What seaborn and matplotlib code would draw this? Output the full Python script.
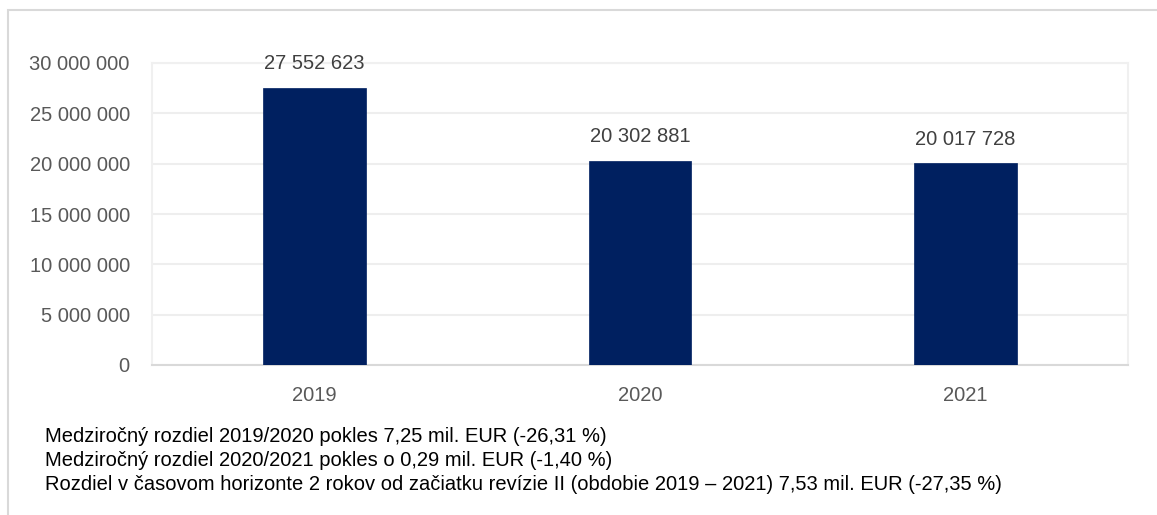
import matplotlib
matplotlib.use("Agg")
import matplotlib.pyplot as plt
import seaborn as sns
import pandas as pd
from matplotlib.patches import Rectangle

years = ["2019", "2020", "2021"]
values = [27552623, 20302881, 20017728]
yticks = [0, 5000000, 10000000, 15000000, 20000000, 25000000, 30000000]
notes = [
    "Medziročný rozdiel 2019/2020 pokles 7,25 mil. EUR (-26,31 %)",
    "Medziročný rozdiel 2020/2021 pokles o 0,29 mil. EUR (-1,40 %)",
    "Rozdiel v časovom horizonte 2 rokov od začiatku revízie II (obdobie 2019 – 2021) 7,53 mil. EUR (-27,35 %)",
]

def fmt(v):
    return f"{int(round(v)):,}".replace(",", " ")

sns.set_theme(style="white")
plt.rcParams['font.family'] = ['Liberation Sans', 'DejaVu Sans']

W, H = 1157, 515
fig = plt.figure(figsize=(W / 100, H / 100), dpi=100)
fig.patch.set_facecolor("white")

# outer frame
fig.patches.append(Rectangle((8 / W, -0.1), 1.2, (H - 10) / H + 0.1, transform=fig.transFigure,
                             fill=False, edgecolor="#d9d9d9", linewidth=1.5, zorder=0))

left, right, top, bottom = 152, 1128, 63, 365
ax = fig.add_axes([left / W, (H - bottom) / H, (right - left) / W, (bottom - top) / H])

df = pd.DataFrame({"year": years, "value": values})
sns.barplot(data=df, x="year", y="value", color="#002060", width=0.315, ax=ax,
            saturation=1, edgecolor="#002060", linewidth=0.5, zorder=3)

ax.set_ylim(0, 30000000)
ax.set_yticks(yticks)
ax.set_yticklabels([fmt(v) for v in yticks])
ax.set_xlabel("")
ax.set_ylabel("")
ax.grid(axis="y", color="#eeeeee", linewidth=1.5, zorder=0)
ax.set_axisbelow(True)
for s in ["left", "top", "right"]:
    ax.spines[s].set_color("#f0f0f0")
    ax.spines[s].set_linewidth(1.5)
ax.spines["bottom"].set_color("#d9d9d9")
ax.spines["bottom"].set_linewidth(1.5)
ax.tick_params(axis="y", length=0, pad=16, labelsize=14.5, labelcolor="#595959")
ax.tick_params(axis="x", length=0, pad=15, labelsize=14.5, labelcolor="#595959")

for i, v in enumerate(values):
    ax.annotate(fmt(v), (i, v), xytext=(0, 10.5), textcoords="offset points",
                ha="center", va="bottom", fontsize=14.5, color="#404040")

for k, t in enumerate(notes):
    fig.text(45 / W, 1 - (437 + 24 * k) / H, t, ha="left", va="center",
             fontsize=14.5, color="#000000")

fig.savefig("out.png", dpi=100, facecolor="white")
